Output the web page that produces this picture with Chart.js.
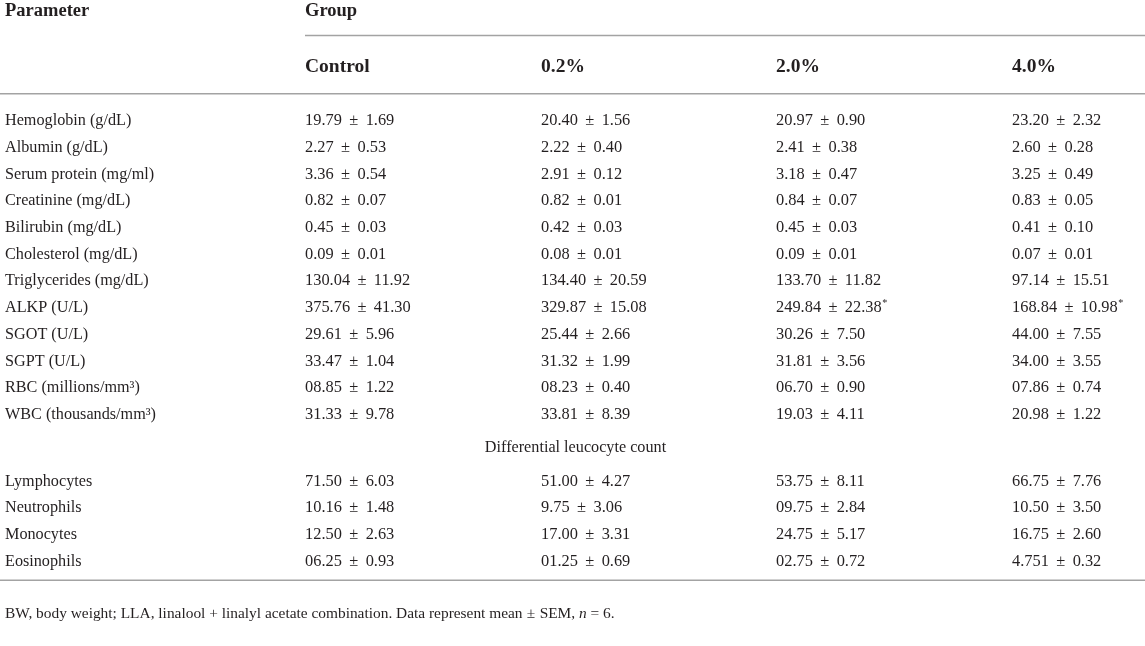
<!DOCTYPE html>
<html lang="en">
<head>
<meta charset="UTF-8">
<title>Blood parameters by group</title>
<script src="https://cdn.jsdelivr.net/npm/chart.js"></script>
<style>
    body { margin: 0; background: #fff; }
    #wrap { width: 1145px; height: 646px; }
</style>
</head>
<body>
<div id="wrap"><canvas id="tableChart"></canvas></div>
<script>
// table content
const parameters = [
    'Hemoglobin (g/dL)', 'Albumin (g/dL)', 'Serum protein (mg/ml)', 'Creatinine (mg/dL)',
    'Bilirubin (mg/dL)', 'Cholesterol (mg/dL)', 'Triglycerides (mg/dL)', 'ALKP (U/L)',
    'SGOT (U/L)', 'SGPT (U/L)', 'RBC (millions/mm\u00B3)', 'WBC (thousands/mm\u00B3)',
    'Lymphocytes', 'Neutrophils', 'Monocytes', 'Eosinophils'
];
const groups = ['Control', '0.2%', '2.0%', '4.0%'];
const control = [
    '19.79 ± 1.69', '2.27 ± 0.53', '3.36 ± 0.54', '0.82 ± 0.07', '0.45 ± 0.03', '0.09 ± 0.01',
    '130.04 ± 11.92', '375.76 ± 41.30', '29.61 ± 5.96', '33.47 ± 1.04', '08.85 ± 1.22', '31.33 ± 9.78',
    '71.50 ± 6.03', '10.16 ± 1.48', '12.50 ± 2.63', '06.25 ± 0.93'
];
const dose02 = [
    '20.40 ± 1.56', '2.22 ± 0.40', '2.91 ± 0.12', '0.82 ± 0.01', '0.42 ± 0.03', '0.08 ± 0.01',
    '134.40 ± 20.59', '329.87 ± 15.08', '25.44 ± 2.66', '31.32 ± 1.99', '08.23 ± 0.40', '33.81 ± 8.39',
    '51.00 ± 4.27', '9.75 ± 3.06', '17.00 ± 3.31', '01.25 ± 0.69'
];
const dose20 = [
    '20.97 ± 0.90', '2.41 ± 0.38', '3.18 ± 0.47', '0.84 ± 0.07', '0.45 ± 0.03', '0.09 ± 0.01',
    '133.70 ± 11.82', '249.84 ± 22.38*', '30.26 ± 7.50', '31.81 ± 3.56', '06.70 ± 0.90', '19.03 ± 4.11',
    '53.75 ± 8.11', '09.75 ± 2.84', '24.75 ± 5.17', '02.75 ± 0.72'
];
const dose40 = [
    '23.20 ± 2.32', '2.60 ± 0.28', '3.25 ± 0.49', '0.83 ± 0.05', '0.41 ± 0.10', '0.07 ± 0.01',
    '97.14 ± 15.51', '168.84 ± 10.98*', '44.00 ± 7.55', '34.00 ± 3.55', '07.86 ± 0.74', '20.98 ± 1.22',
    '66.75 ± 7.76', '10.50 ± 3.50', '16.75 ± 2.60', '4.751 ± 0.32'
];
const subHeading = 'Differential leucocyte count';
const footnote = [['BW, body weight; LLA, linalool + linalyl acetate combination. Data represent mean ± SEM, ', false], ['n', true], [' = 6.', false]];

// layout (in scale units: x = px across, y = row slots)
const W = 1145, H = 646;
const colX = [5, 305, 541, 776, 1012];
const ROW0 = 121, ROWH = 26.7;
const ink = '#231f20';
const rule = '#a3a3a3';
const serif = '"Liberation Serif", "DejaVu Serif", serif';

// body rows after the sub heading are pushed down
function rowOf(i) { return i < 12 ? i : i + 1.5; }

function column(x, texts, size, style, align, gap) {
    return {
        type: 'scatter',
        data: texts.map((t, i) => ({ x: x, y: rowOf(i) })),
        texts: texts, size: size, style: style || '', align: align || 'left', gap: gap || 0.45,
        pointRadius: 0
    };
}
function single(x, y, text, size, style, align, gap) {
    const ds = column(x, [text], size, style, align, gap);
    ds.data = [{ x: x, y: y }];
    return ds;
}
function hrule(x0, x1, y) {
    return {
        type: 'scatter', showLine: true, data: [{ x: x0, y: y }, { x: x1, y: y }],
        borderColor: rule, borderWidth: 1.5, pointRadius: 0
    };
}

const datasets = [
    single(colX[0], -4.12, 'Parameter', 18.5, 'bold'),
    single(colX[1], -4.12, 'Group', 18.5, 'bold'),
    hrule(colX[1], W, -3.2),
    ...groups.map((g, i) => single(colX[i + 1], -2.04, g, 19.5, 'bold')),
    hrule(0, W, -1.02),
    column(colX[0], parameters, 16.2),
    column(colX[1], control, 16.4),
    column(colX[2], dose02, 16.4),
    column(colX[3], dose20, 16.4),
    column(colX[4], dose40, 16.4),
    single(W / 2 + 3, 12.25, subHeading, 16.2, '', 'center'),
    hrule(0, W, 17.2),
    single(colX[0], 18.45, footnote, 15.4, '', 'left', 0.28)
];

// draws one run of text left aligned; widens the gap round ± and raises a trailing *
function drawRun(ctx, s, x, y, size, style, gapEm) {
    const font = (style ? style + ' ' : '') + size + 'px ' + serif;
    const gap = size * gapEm;
    let star = false;
    if (s.endsWith('*')) { star = true; s = s.slice(0, -1); }
    const parts = s.split(' ± ');
    ctx.font = font;
    parts.forEach((p, k) => {
        if (k > 0) {
            x += gap;
            ctx.fillText('±', x, y);
            x += ctx.measureText('±').width + gap;
        }
        ctx.fillText(p, x, y);
        x += ctx.measureText(p).width;
    });
    if (star) {
        ctx.font = (size * 0.62) + 'px ' + serif;
        ctx.fillText('*', x + 0.5, y - size * 0.3);
        x += ctx.measureText('*').width + 0.5;
        ctx.font = font;
    }
    return x;
}

// writes each cell's text at the pixel position the scales gave its point
const cellText = {
    id: 'cellText',
    afterDatasetsDraw(chart) {
        const ctx = chart.ctx;
        chart.data.datasets.forEach((ds, di) => {
            if (!ds.texts) return;
            const meta = chart.getDatasetMeta(di);
            ctx.save();
            ctx.fillStyle = ink;
            ctx.textBaseline = 'middle';
            ctx.textAlign = 'left';
            meta.data.forEach((pt, i) => {
                const t = ds.texts[i];
                if (Array.isArray(t)) {
                    let x = pt.x;
                    t.forEach(([s, it]) => { x = drawRun(ctx, s, x, pt.y, ds.size, it ? 'italic' : ds.style, ds.gap); });
                } else if (ds.align === 'center') {
                    ctx.font = (ds.style ? ds.style + ' ' : '') + ds.size + 'px ' + serif;
                    ctx.textAlign = 'center';
                    ctx.fillText(t, pt.x, pt.y);
                    ctx.textAlign = 'left';
                } else {
                    drawRun(ctx, t, pt.x, pt.y, ds.size, ds.style, ds.gap);
                }
            });
            ctx.restore();
        });
    }
};

new Chart(document.getElementById('tableChart'), {
    type: 'scatter',
    data: { datasets: datasets },
    options: {
        responsive: true,
        maintainAspectRatio: false,
        animation: false,
        layout: { padding: 0 },
        plugins: { legend: { display: false }, tooltip: { enabled: false } },
        scales: {
            x: { type: 'linear', display: false, min: 0, max: W },
            y: { type: 'linear', display: false, reverse: true, min: -ROW0 / ROWH, max: (H - ROW0) / ROWH }
        }
    },
    plugins: [cellText]
});
</script>
</body>
</html>
